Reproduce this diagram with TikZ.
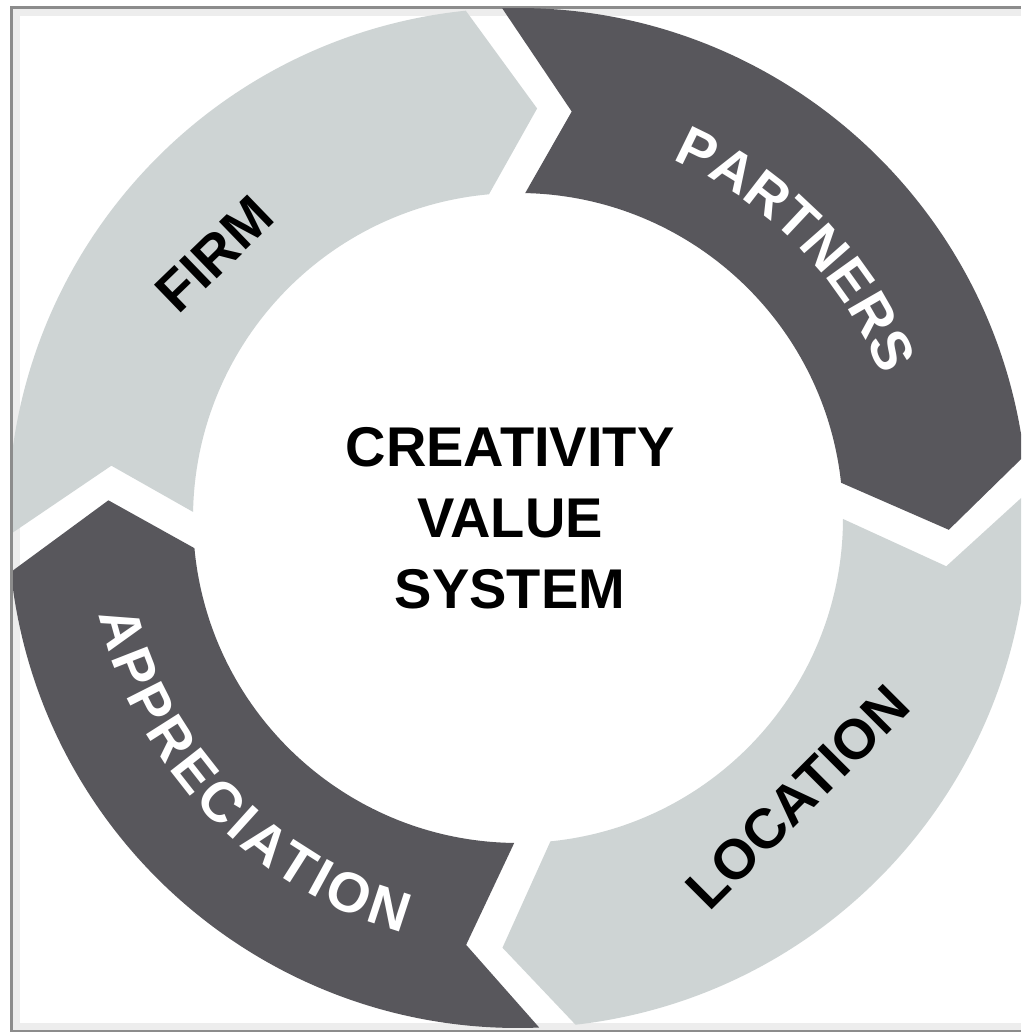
\documentclass[tikz,border=0pt]{standalone}
\usepackage{fontspec}
\setmainfont{Liberation Sans}
\usetikzlibrary{decorations.text}

\definecolor{ringlight}{HTML}{CED4D4}
\definecolor{ringdark}{HTML}{58575C}
\definecolor{frameline}{HTML}{8C8C8C}
\definecolor{framestrip}{HTML}{EDEDED}

\newcommand\ringfont{\bfseries\fontsize{56}{56}\selectfont}

\tikzset{
  ringtext/.style={font=\ringfont, inner sep=0pt},
  arctext/.style={decorate, decoration={text along path, text={|\ringfont|#1},
    text color=white, text align=fit to path}}
}

\begin{document}
\begin{tikzpicture}[x=1pt, y=1pt]

\def\R{510}
\def\r{325}

\path [use as bounding box] (0,0) rectangle (1021,1032);

% FRAME
\fill [frameline] (10,0) rectangle (1021,1026);
\fill [framestrip] (13,2) rectangle (1021,1023);
\fill [white] (20,9) rectangle (1021,1016);

\begin{scope}
\clip (13,2) rectangle (1021,1023);
\begin{scope}[shift={(518,514)}]

% RING: start angle / tail tip radius / end angle / head tip radius
\foreach \a/\ra/\b/\rb/\col in {175.1/410/84.9/410/ringlight, 84.9/410/-4/431/ringdark,
    -4/431/-94.5/430/ringlight, -94.5/430/-184.9/410/ringdark}
  \fill [\col] (\a+6.88:\R) arc [start angle=\a+6.88, end angle=\b+10.98, radius=\R]
    -- (\b+2.43:\rb) -- (\b+10.23:\r)
    arc [start angle=\b+10.23, end angle=\a+3.83, radius=\r]
    -- (\a-2.43:\ra) -- cycle;

% LABELS
\node (firm) [ringtext, rotate=44] at (139:402) {FIRM};
\node (location) [ringtext, rotate=45] at (-45:395) {LOCATION};
\path [arctext=PARTNERS] (66.7:390) arc [start angle=66.7, end angle=23, radius=390];
\path [arctext=APPRECIATION] (193:430) arc [start angle=193, end angle=254.5, radius=430];

% CENTRE
\node (centre) [font=\bfseries\fontsize{56}{71}\selectfont, align=center] at (-8,0)
  {CREATIVITY\\VALUE\\SYSTEM};

\end{scope}
\end{scope}

\end{tikzpicture}
\end{document}
